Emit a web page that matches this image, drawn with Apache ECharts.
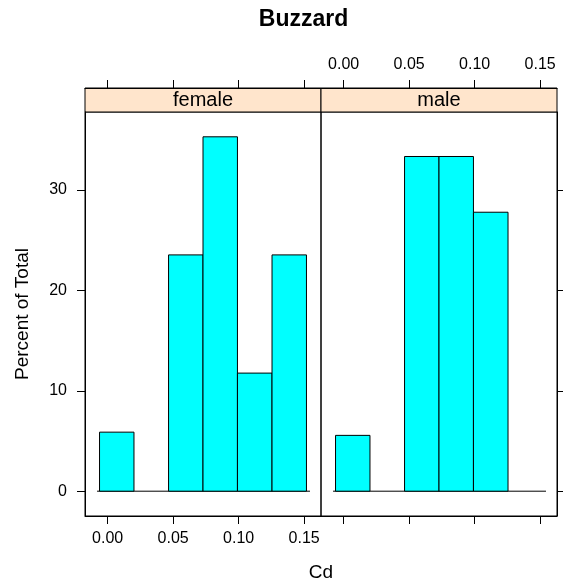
<!DOCTYPE html>
<html>
<head>
<meta charset="utf-8">
<script src="https://cdn.jsdelivr.net/npm/echarts@6/dist/echarts.min.js"></script>
<style>
  html, body { margin: 0; padding: 0; background: #fff; }
  #chart { width: 563px; height: 588px; }
</style>
</head>
<body>
<div id="chart"></div>
<script>
  // histogram bins of Cd (shared by both panels)
  const breaks = [-0.0062, 0.0201, 0.0465, 0.0728, 0.0991, 0.1255, 0.1518]
  const panels = ['female', 'male']
  const femalePct = [5.88, 0, 23.53, 35.29, 11.76, 23.53]
  const malePct = [5.56, 0, 33.33, 33.33, 27.78, 0]
  const xTicks = [0, 0.05, 0.1, 0.15]
  const yTicks = [0, 10, 20, 30]
  const xRange = [-0.0173, 0.1629]
  const yRange = [-2.47, 37.76]
  const baseLine = [-0.0081, 0.1545]

  const font = '"Liberation Sans", Arial, sans-serif'
  const chart = echarts.init(document.getElementById('chart'))

  const toBars = (pct) =>
    pct
      .map((v, i) => [breaks[i], breaks[i + 1], v])
      .filter((d) => d[2] > 0)

  const tickStyle = { lineStyle: { color: '#000', width: 1 } }

  const xAxisFor = (idx, pos, showLabel) => ({
    type: 'value',
    gridIndex: idx,
    position: pos,
    offset: pos === 'top' ? 24 : 0,
    min: xRange[0],
    max: xRange[1],
    splitLine: { show: false },
    axisLine: { show: true, onZero: false, lineStyle: { color: '#000' } },
    axisTick: { show: true, length: 8, customValues: xTicks, ...tickStyle },
    axisLabel: {
      show: showLabel,
      customValues: xTicks,
      formatter: (v) => v.toFixed(2),
      fontSize: 16,
      fontFamily: font,
      color: '#000',
      margin: 15,
    },
  })

  const yAxisFor = (idx, pos, showLabel) => ({
    type: 'value',
    gridIndex: idx,
    position: pos,
    min: yRange[0],
    max: yRange[1],
    splitLine: { show: false },
    axisLine: { show: true, onZero: false, lineStyle: { color: '#000' } },
    axisTick: { show: true, length: 8, customValues: yTicks, ...tickStyle },
    axisLabel: {
      show: showLabel,
      customValues: yTicks,
      fontSize: 16,
      fontFamily: font,
      color: '#000',
      margin: 18,
    },
    name: showLabel ? 'Percent of Total' : '',
    nameLocation: 'middle',
    nameGap: 53,
    nameRotate: 90,
    nameTextStyle: { fontSize: 19, fontFamily: font, color: '#000' },
  })

  const renderBar = (params, api) => {
    const p0 = api.coord([api.value(0), api.value(2)])
    const p1 = api.coord([api.value(1), 0])
    return {
      type: 'rect',
      shape: { x: p0[0], y: p0[1], width: p1[0] - p0[0], height: p1[1] - p0[1] },
      style: { fill: '#00FFFF', stroke: '#000', lineWidth: 1 },
    }
  }

  const series = []
  ;[femalePct, malePct].forEach((pct, i) => {
    series.push({
      type: 'line',
      xAxisIndex: i * 2,
      yAxisIndex: i,
      data: [[baseLine[0], 0], [baseLine[1], 0]],
      symbol: 'none',
      lineStyle: { color: '#000', width: 1 },
      z: 1,
    })
    series.push({
      type: 'custom',
      xAxisIndex: i * 2,
      yAxisIndex: i,
      data: toBars(pct),
      encode: { x: [0, 1], y: 2 },
      renderItem: renderBar,
      z: 2,
    })
  })

  const strip = (left, text) => [
    {
      type: 'rect',
      shape: { x: left, y: 88, width: 236, height: 24 },
      style: { fill: '#FFE5CC', stroke: '#000', lineWidth: 1 },
    },
    {
      type: 'text',
      x: left + 118,
      y: 100,
      style: {
        text: text,
        font: '20px ' + font,
        fill: '#000',
        align: 'center',
        verticalAlign: 'middle',
      },
    },
  ]

  const option = {
    animation: false,
    backgroundColor: '#fff',
    grid: [
      { left: 85, top: 112, width: 236, height: 404, show: true, borderColor: '#000', borderWidth: 1 },
      { left: 321, top: 112, width: 236, height: 404, show: true, borderColor: '#000', borderWidth: 1 },
    ],
    xAxis: [
      xAxisFor(0, 'bottom', true),
      xAxisFor(0, 'top', false),
      xAxisFor(1, 'bottom', false),
      xAxisFor(1, 'top', true),
    ],
    yAxis: [
      yAxisFor(0, 'left', true),
      yAxisFor(1, 'right', false),
    ],
    series: series,
    graphic: [
      ...strip(85, panels[0]),
      ...strip(321, panels[1]),
      {
        type: 'text',
        x: 303.5,
        y: 20,
        style: {
          text: 'Buzzard',
          font: 'bold 23px ' + font,
          fill: '#000',
          align: 'center',
          verticalAlign: 'middle',
        },
      },
      {
        type: 'text',
        x: 321,
        y: 573,
        style: {
          text: 'Cd',
          font: '19px ' + font,
          fill: '#000',
          align: 'center',
          verticalAlign: 'middle',
        },
      },
    ],
  }

  chart.setOption(option)
</script>
</body>
</html>
